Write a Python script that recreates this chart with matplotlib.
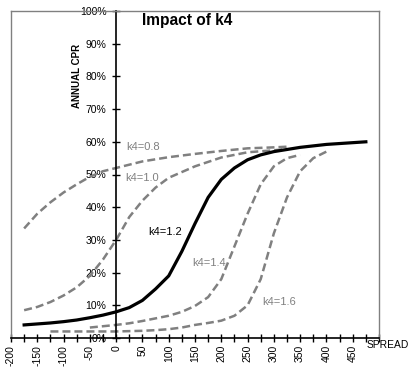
"""Impact of k4: annual CPR versus spread for several k4 values."""

import matplotlib
matplotlib.use("Agg")
import matplotlib.pyplot as plt
from matplotlib.ticker import MultipleLocator

plt.rcParams["font.family"] = ["Liberation Sans", "DejaVu Sans"]

# spread (bp) and annual CPR (%)
spread_08 = [-175, -150, -125, -100, -75, -50, -25, 0, 50, 100, 150, 200, 250, 300, 325]
cpr_08 = [33.5, 38, 41.5, 44.5, 47, 49.3, 51, 52, 54, 55.3, 56.3, 57.2, 58, 58.3, 58.5]

spread_10 = [-175, -150, -125, -100, -75, -50, -25, 0, 25, 50, 75, 100, 150, 200, 250, 300, 325]
cpr_10 = [8.5, 9.5, 11, 13, 15.5, 19, 24, 30, 37, 42, 46, 49, 52.5, 55.2, 56.8, 57.4, 57.8]

spread_12 = [-175, -150, -125, -100, -75, -50, -25, 0, 25, 50, 75, 100, 125, 150, 175,
             200, 225, 250, 275, 300, 350, 400, 475]
cpr_12 = [4, 4.3, 4.6, 5, 5.5, 6.2, 7, 8, 9.3, 11.5, 15, 19, 26.5, 35, 43,
          48.5, 52, 54.5, 56, 57, 58.3, 59.2, 60]

spread_14 = [-50, -25, 0, 25, 50, 75, 100, 125, 150, 175, 200, 225, 250, 275, 300, 325, 350]
cpr_14 = [3.2, 3.6, 4, 4.5, 5.2, 6, 6.8, 8, 9.8, 12.5, 18, 28, 38, 47, 52.5, 55, 56]

spread_16 = [-125, -100, -75, -50, -25, 0, 25, 50, 75, 100, 125, 150, 175, 200, 225,
             250, 275, 300, 325, 350, 375, 400]
cpr_16 = [2.0, 2.0, 2.0, 2.0, 2.0, 2.0, 2.1, 2.2, 2.4, 2.7, 3.2, 4.0, 4.6, 5.3, 6.8,
          10, 18, 32, 43, 51, 55, 57]

x_ticks = list(range(-200, 501, 50))
x_labels = [str(v) for v in x_ticks[:-1]] + [""]
y_ticks = [v / 100 for v in range(0, 101, 10)]
y_labels = [f"{v}%" for v in range(0, 101, 10)]

GRAY = "#808080"
W, H = 415, 371

fig = plt.figure(figsize=(W / 100, H / 100), dpi=100)
ax = fig.add_axes([11 / W, 1 - 338 / H, 368 / W, 327 / H])

dash = (0, (3.2, 1.6))
ax.plot(spread_08, [v / 100 for v in cpr_08], color=GRAY, lw=1.8, ls=dash)
ax.plot(spread_10, [v / 100 for v in cpr_10], color=GRAY, lw=1.8, ls=dash)
ax.plot(spread_14, [v / 100 for v in cpr_14], color=GRAY, lw=1.8, ls=dash)
ax.plot(spread_16, [v / 100 for v in cpr_16], color=GRAY, lw=1.8, ls=dash)
ax.plot(spread_12, [v / 100 for v in cpr_12], color="black", lw=2.3)

ax.set_xlim(-200, 500)
ax.set_ylim(0, 1)

# axes cross at the origin, grey frame elsewhere
ax.spines["left"].set_position(("data", 0))
ax.spines["left"].set_color("black")
ax.spines["left"].set_linewidth(1.2)
ax.spines["bottom"].set_color("black")
ax.spines["bottom"].set_linewidth(1.2)
for side in ("top", "right"):
    ax.spines[side].set_color(GRAY)
    ax.spines[side].set_linewidth(1.0)
ax.axvline(-200, color=GRAY, lw=1.0, clip_on=False)

ax.set_xticks(x_ticks)
ax.set_xticklabels(x_labels, rotation=90, fontsize=7.5)
ax.xaxis.set_minor_locator(MultipleLocator(25))
ax.set_yticks(y_ticks)
ax.set_yticklabels(y_labels, fontsize=7.5)
ax.tick_params(axis="both", which="both", direction="inout", length=6, width=1.0, color="black")
ax.tick_params(axis="x", pad=2)
ax.tick_params(axis="y", pad=4)

fig.text(187 / W, 1 - 21 / H, "Impact of k4", ha="center", va="center",
         fontsize=11.2, fontweight="bold")
fig.text(77 / W, 1 - 76 / H, "ANNUAL CPR", rotation=90, ha="center", va="center",
         fontsize=7, fontweight="bold")
fig.text(367 / W, 1 - 345 / H, "SPREAD", ha="left", va="center", fontsize=7.4)

ax.text(20, 0.585, "k4=0.8", color=GRAY, fontsize=8, ha="left", va="center")
ax.text(17, 0.49, "k4=1.0", color=GRAY, fontsize=8, ha="left", va="center")
ax.text(62, 0.325, "k4=1.2", color="black", fontsize=8, ha="left", va="center")
ax.text(145, 0.23, "k4=1.4", color=GRAY, fontsize=8, ha="left", va="center")
ax.text(278, 0.11, "k4=1.6", color=GRAY, fontsize=8, ha="left", va="center")

fig.savefig("out.png", dpi=100)
